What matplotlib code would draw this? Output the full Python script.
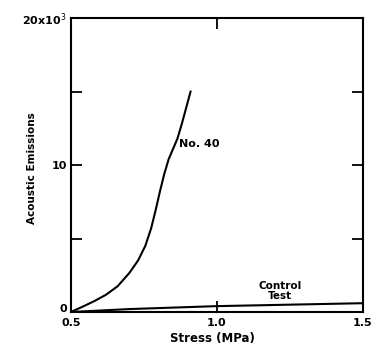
import matplotlib
matplotlib.use("Agg")
import matplotlib.pyplot as plt
import matplotlib.transforms as mtransforms

# Data
no40_x = [0.5, 0.54, 0.58, 0.62, 0.66, 0.70, 0.73, 0.755, 0.775, 0.79,
          0.805, 0.82, 0.835, 0.85, 0.865, 0.88, 0.895, 0.91]
no40_y = [0, 360, 740, 1170, 1750, 2650, 3500, 4500, 5700, 6900,
          8200, 9400, 10400, 11100, 11800, 12800, 13900, 15000]
ctrl_x = [0.5, 0.7, 1.0, 1.25, 1.5]
ctrl_y = [0, 200, 400, 500, 600]

xticks = [0.5, 1.0, 1.5]
xticklabels = ["0.5", "1.0", "1.5"]
yticks = [0, 5000, 10000, 15000, 20000]
yticklabels = ["0", "", "10", "", "20x10$^3$"]

fig = plt.figure(figsize=(3.71, 3.52), dpi=100)
ax = fig.add_axes([0.191, 0.1136, 0.787, 0.835])

ax.plot(no40_x, no40_y, color="black", lw=1.5, solid_joinstyle="round")
ax.plot(ctrl_x, ctrl_y, color="black", lw=1.5)

ax.set_xlim(0.5, 1.5)
ax.set_ylim(0, 20000)
ax.set_xticks(xticks)
ax.set_xticklabels(xticklabels, fontsize=8, fontweight="bold")
ax.set_yticks(yticks)
ax.set_yticklabels(yticklabels, fontsize=8, fontweight="bold")
ax.tick_params(direction="in", length=8, width=1.3, top=True, right=True, pad=3)
ax.tick_params(axis="x", pad=4)

# nudge the y "0" label up a little, as in the reference
lbl0 = ax.get_yticklabels()[0]
lbl0.set_transform(lbl0.get_transform() + mtransforms.ScaledTranslation(0, 4 / 100, fig.dpi_scale_trans))

for s in ax.spines.values():
    s.set_linewidth(1.5)

ax.set_xlabel("Stress (MPa)", fontsize=8.5, fontweight="bold")
ax.xaxis.set_label_coords(0.486, -0.068)
ax.set_ylabel("Acoustic Emissions", fontsize=7.5, fontweight="bold")
ax.yaxis.set_label_coords(-0.116, 0.49)

ax.text(0.87, 11400, "No. 40", fontsize=8, fontweight="bold", ha="left", va="center")
ax.text(1.216, 1430, "Control\nTest", fontsize=7.5, fontweight="bold", ha="center", va="center", linespacing=1.0)

fig.savefig("out.png", dpi=100)
